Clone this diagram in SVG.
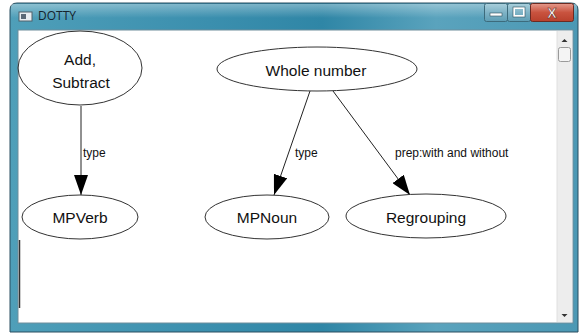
<svg xmlns="http://www.w3.org/2000/svg" width="580" height="333" viewBox="0 0 580 333">
  <defs>
    <linearGradient id="frameGrad" x1="0" y1="0" x2="1" y2="0">
      <stop offset="0" stop-color="#4f9fb9"/>
      <stop offset="0.35" stop-color="#3b8fae"/>
      <stop offset="0.55" stop-color="#2f86a6"/>
      <stop offset="0.75" stop-color="#5aa3bd"/>
      <stop offset="1" stop-color="#4b98b4"/>
    </linearGradient>
    <linearGradient id="titleGloss" x1="0" y1="0" x2="0" y2="1">
      <stop offset="0" stop-color="#ffffff" stop-opacity="0.35"/>
      <stop offset="1" stop-color="#ffffff" stop-opacity="0"/>
    </linearGradient>
    <linearGradient id="btnGrad" x1="0" y1="0" x2="0" y2="1">
      <stop offset="0" stop-color="#a9cfdc"/>
      <stop offset="0.5" stop-color="#7fb3c6"/>
      <stop offset="1" stop-color="#5d9db4"/>
    </linearGradient>
    <linearGradient id="closeGrad" x1="0" y1="0" x2="0" y2="1">
      <stop offset="0" stop-color="#e59a8c"/>
      <stop offset="0.5" stop-color="#c9533f"/>
      <stop offset="1" stop-color="#b8402c"/>
    </linearGradient>
    <marker id="arrow" viewBox="0 0 20 14" refX="20" refY="7" markerUnits="userSpaceOnUse" markerWidth="20" markerHeight="14" orient="auto">
      <path d="M0,0 L20,7 L0,14 Z" fill="#000"/>
    </marker>
    <style>
      .node ellipse { fill: none; stroke: #333; stroke-width: 1; }
      .node text { font-family: "Liberation Sans", Arial, sans-serif; font-size: 15.5px; fill: #111; text-anchor: middle; }
      .edge line { stroke: #222; stroke-width: 1; }
      .elabel { font-family: "Liberation Sans", Arial, sans-serif; font-size: 12px; fill: #111; }
    </style>
  </defs>

  <rect width="580" height="333" fill="#ffffff"/>

  <!-- window frame -->
  <g id="window">
    <path d="M10,10 Q10,3 17,3 L571,3 Q578,3 578,10 L578,332 L10,332 Z" fill="url(#frameGrad)" stroke="#2a4f60" stroke-width="1"/>
    <rect x="11" y="4" width="566" height="14" fill="url(#titleGloss)"/>
    <rect x="18" y="30" width="555" height="293" fill="#ffffff" stroke="#6f8e9c" stroke-width="1"/>
    <!-- title icon and caption -->
    <rect x="19" y="12" width="13" height="9" fill="#e8eef2" stroke="#51606a" stroke-width="1"/>
    <rect x="21" y="14" width="5" height="5" fill="#5a6a78"/>
    <text x="38" y="20" font-family="'Open Sans', 'Liberation Sans', sans-serif" font-size="12px" fill="#15232c">DOTTY</text>
    <!-- caption buttons -->
    <rect x="484.5" y="3.5" width="23" height="18" rx="2" fill="url(#btnGrad)" stroke="#3c6b7c"/>
    <rect x="490" y="13" width="12" height="3" fill="#ffffff" stroke="#2f4f5c" stroke-width="0.6"/>
    <rect x="507.5" y="3.5" width="23" height="18" rx="2" fill="url(#btnGrad)" stroke="#3c6b7c"/>
    <rect x="514" y="8" width="10" height="8" fill="none" stroke="#ffffff" stroke-width="2"/>
    <rect x="513" y="7" width="12" height="10" fill="none" stroke="#2f4f5c" stroke-width="0.6"/>
    <rect x="530.5" y="3.5" width="43" height="18" rx="2" fill="url(#closeGrad)" stroke="#6b2a22"/>
    <text x="552" y="18" font-family="'Liberation Sans', sans-serif" font-weight="bold" font-size="14px" fill="#ffffff" stroke="#5a1f18" stroke-width="0.5" text-anchor="middle">X</text>
    <!-- vertical scrollbar -->
    <rect x="557" y="31" width="15" height="291" fill="#ededed"/>
    <line x1="557" y1="31" x2="557" y2="322" stroke="#e0e0e0"/>
    <path d="M561.5,42 L567.5,42 L564.5,39 Z" fill="#333"/>
    <rect x="558.5" y="47.5" width="12" height="14" rx="2" fill="#f4f4f4" stroke="#9a9a9a"/>
    <path d="M561.5,314 L567.5,314 L564.5,317 Z" fill="#333"/>
    <!-- stray dark stroke on the left client edge -->
    <line x1="19.5" y1="240" x2="19.5" y2="308" stroke="#333" stroke-width="1.5"/>
  </g>

  <!-- connectors -->
  <g id="edges" class="edge">
    <line x1="81" y1="106" x2="81" y2="195" marker-end="url(#arrow)"/>
    <text class="elabel" x="83" y="157">type</text>
    <line x1="310" y1="91" x2="274" y2="195" marker-end="url(#arrow)"/>
    <text class="elabel" x="295" y="157">type</text>
    <line x1="333" y1="91" x2="410" y2="195" marker-end="url(#arrow)"/>
    <text class="elabel" x="395" y="157">prep:with and without</text>
  </g>

  <!-- nodes -->
  <g id="n-add-subtract" class="node">
    <ellipse cx="80" cy="68" rx="62" ry="37"/>
    <text x="80" y="65">Add,</text>
    <text x="81" y="88">Subtract</text>
  </g>
  <g id="n-whole-number" class="node">
    <ellipse cx="317" cy="69" rx="100" ry="22"/>
    <text x="316" y="76">Whole number</text>
  </g>
  <g id="n-mpverb" class="node">
    <ellipse cx="80" cy="217" rx="58" ry="22"/>
    <text x="80" y="223">MPVerb</text>
  </g>
  <g id="n-mpnoun" class="node">
    <ellipse cx="267" cy="217" rx="62" ry="22"/>
    <text x="267" y="223">MPNoun</text>
  </g>
  <g id="n-regrouping" class="node">
    <ellipse cx="426" cy="216" rx="80" ry="22"/>
    <text x="426" y="223">Regrouping</text>
  </g>
</svg>
